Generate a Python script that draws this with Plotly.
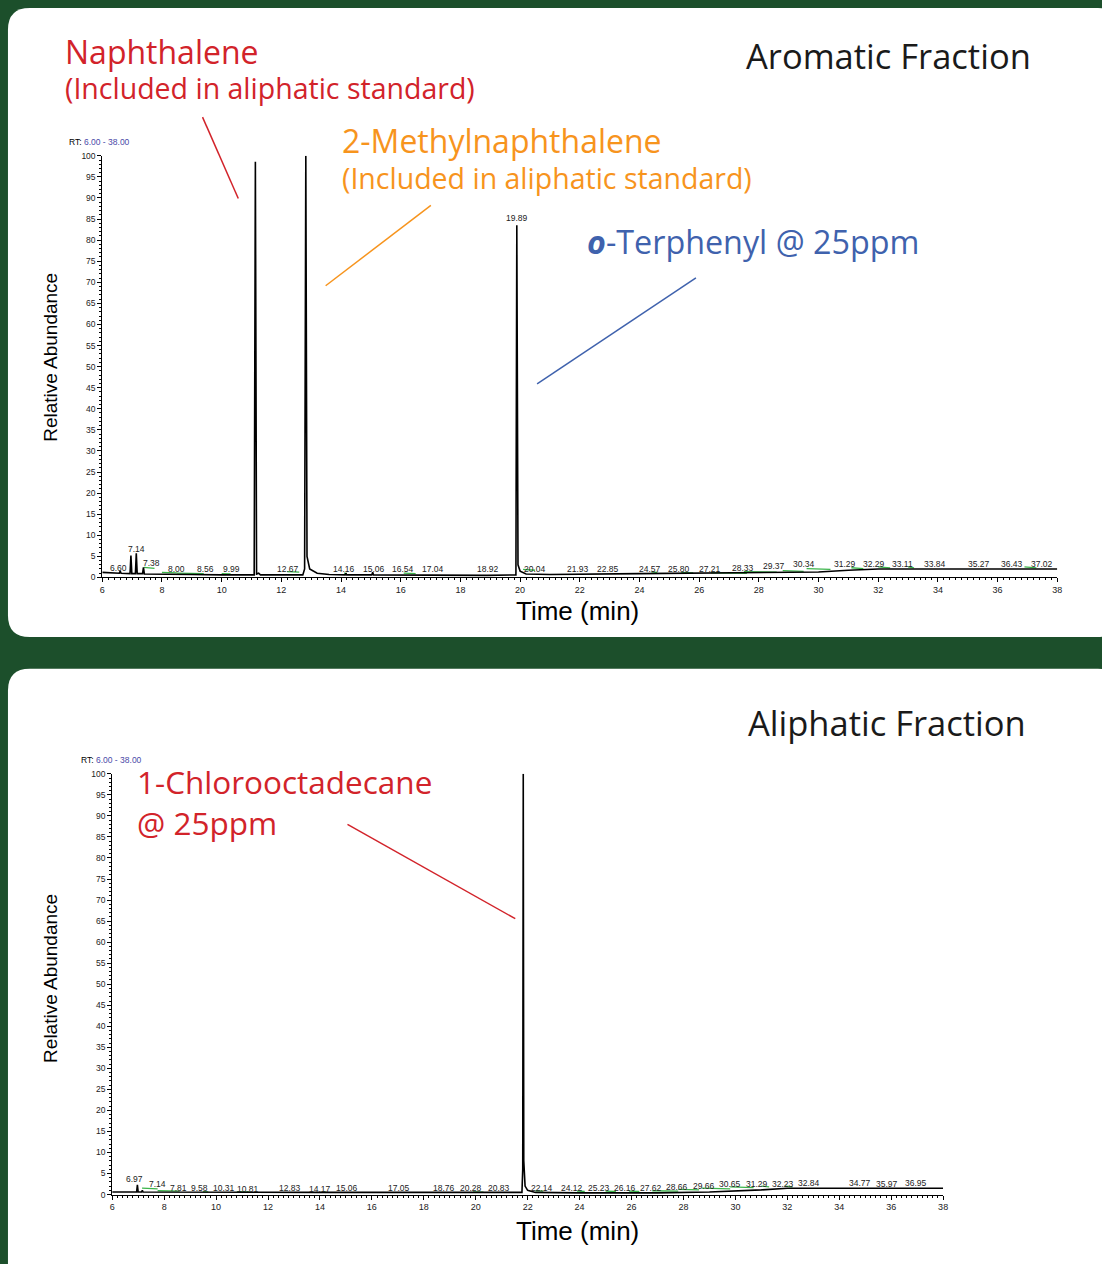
import plotly.graph_objects as go

W, H = 1102, 1264

# ---------------- data ----------------
# Aromatic fraction chromatogram (time in min, relative abundance %)
aro_time = [6.00, 6.50, 6.57, 6.60, 6.63, 6.93, 6.96, 6.99, 7.11, 7.14, 7.17, 7.35, 7.38, 7.41,
            8.00, 9.00, 10.00, 11.09, 11.13, 11.17, 11.24, 11.30, 12.72, 12.78, 12.82, 12.86,
            12.95, 13.20, 13.60, 14.14, 14.16, 14.19, 15.03, 15.06, 15.09, 17.00, 18.90, 19.86,
            19.89, 19.93, 20.00, 20.20, 21.00, 24.00, 28.00, 30.00, 31.00, 32.00, 34.00, 38.00]
aro_abund = [1.2, 1.0, 1.0, 1.5, 1.0, 0.9, 5.2, 0.9, 0.9, 5.7, 0.9, 0.9, 2.4, 0.8,
             0.7, 0.7, 0.6, 0.6, 98.6, 0.8, 1.0, 0.6, 0.6, 2.0, 100.0, 5.0,
             2.0, 1.0, 0.7, 0.6, 1.0, 0.6, 0.6, 1.2, 0.6, 0.5, 0.5, 0.6,
             83.5, 3.0, 1.5, 0.8, 0.7, 0.9, 1.1, 1.3, 1.7, 2.0, 2.0, 2.0]
aro_labels = ["6.60", "7.14", "7.38", "8.00", "8.56", "9.99", "11.13", "12.67", "14.16", "15.06",
              "16.54", "17.04", "18.92", "19.89", "20.04", "21.93", "22.85", "24.57", "25.80",
              "27.21", "28.33", "29.37", "30.34", "31.29", "32.29", "33.11", "33.84", "35.27",
              "36.43", "37.02"]
aro_label_time = [6.53, 7.16, 7.64, 8.50, 9.47, 10.32, 11.16, 12.21, 14.10, 15.09,
                  16.07, 17.09, 18.94, 19.91, 20.51, 21.93, 22.93, 24.35, 25.34,
                  26.36, 27.47, 28.52, 29.51, 30.87, 31.86, 32.82, 33.90, 35.38,
                  36.49, 37.49]
aro_label_level = [2.2, 6.8, 3.5, 2.1, 1.9, 1.9, 100.3, 2.1, 2.1, 2.1,
                   1.9, 2.1, 2.1, 85.2, 2.1, 1.9, 1.9, 2.1, 2.1,
                   2.1, 2.2, 2.6, 3.1, 3.3, 3.3, 3.3, 3.3, 3.3,
                   3.3, 3.3]
aro_green_start = [7.40, 8.00, 8.50, 10.00, 12.20, 14.10, 16.10, 20.10, 24.40, 25.40, 26.40, 27.50, 28.80, 29.60, 31.10, 32.00, 33.00, 36.90]
aro_green_end = [7.75, 8.50, 9.40, 10.30, 12.60, 14.20, 16.50, 20.50, 24.60, 25.80, 27.60, 28.60, 29.50, 30.40, 31.50, 32.40, 33.20, 37.30]
aro_green_lvl = [2.4, 1.2, 1.0, 0.9, 1.4, 1.0, 1.0, 1.9, 1.3, 1.2, 1.1, 1.4, 1.6, 2.1, 2.3, 2.5, 2.5, 2.5]

# Aliphatic fraction chromatogram
ali_time = [6.00, 6.94, 6.97, 7.00, 7.13, 7.16, 7.19, 10.00, 14.00, 18.00, 21.00, 21.78, 21.81,
            21.83, 21.85, 21.90, 22.00, 22.30, 24.00, 27.00, 29.00, 30.00, 31.00, 32.00, 38.00]
ali_abund = [0.6, 0.6, 2.3, 0.6, 0.6, 1.0, 0.6, 0.5, 0.5, 0.5, 0.5, 0.5, 6.0,
             100.0, 8.0, 2.0, 1.0, 0.5, 0.4, 0.4, 0.6, 0.8, 1.1, 1.5, 1.5]
ali_labels = ["6.97", "7.14", "7.81", "9.58", "10.31", "10.81", "12.83", "14.17", "15.06", "17.05",
              "18.76", "20.28", "20.83", "22.14", "24.12", "25.23", "26.16", "27.62", "28.66",
              "29.66", "30.65", "31.29", "32.23", "32.84", "34.77", "35.97", "36.95"]
ali_label_time = [6.85, 7.76, 8.57, 9.38, 10.29, 11.22, 12.84, 14.00, 15.05, 17.05,
                  18.78, 19.80, 20.88, 22.54, 23.71, 24.73, 25.75, 26.74, 27.76,
                  28.78, 29.79, 30.82, 31.83, 32.85, 34.80, 35.82, 36.94]
ali_label_level = [3.7, 2.4, 1.6, 1.5, 1.6, 1.3, 1.6, 1.3, 1.6, 1.6,
                   1.6, 1.6, 1.6, 1.6, 1.6, 1.6, 1.6, 1.6, 1.9,
                   2.1, 2.4, 2.5, 2.5, 2.7, 2.7, 2.5, 2.7]
ali_green_start = [7.15, 7.75, 9.50, 10.80, 14.10, 19.90, 22.30, 23.90, 25.00, 25.90, 26.80, 27.80, 28.70, 29.80, 31.00, 31.90]
ali_green_end = [7.75, 8.60, 9.70, 11.30, 14.25, 20.30, 22.60, 24.20, 25.40, 26.30, 27.80, 28.60, 29.80, 30.70, 31.30, 32.20]
ali_green_lvl = [1.5, 0.9, 0.7, 0.7, 0.6, 0.6, 0.9, 0.8, 0.8, 0.8, 0.9, 1.2, 1.5, 1.8, 2.0, 2.0]

y_ticks = list(range(0, 101, 5))

# ---------------- helpers ----------------
def fx(p):
    return p / W

def fy(p):
    return 1 - p / H

GREEN_BG = "#1c4f2b"
RED = "#d2232a"
ORANGE = "#f7941d"
BLUE = "#3f62ad"
TXT_FONT = "Open Sans"

fig = go.Figure()

def segs(starts, ends, lvls):
    xs, ys = [], []
    for a, b, l in zip(starts, ends, lvls):
        xs += [a, b, None]
        ys += [l, l * 0.9, None]
    return xs, ys

gx, gy = segs(aro_green_start, aro_green_end, aro_green_lvl)
fig.add_trace(go.Scatter(x=gx, y=gy, mode="lines", line=dict(color="#3cb44b", width=1.3),
                         xaxis="x", yaxis="y", hoverinfo="skip"))
fig.add_trace(go.Scatter(x=aro_time, y=aro_abund, mode="lines", line=dict(color="black", width=1.6),
                         xaxis="x", yaxis="y"))
gx, gy = segs(ali_green_start, ali_green_end, ali_green_lvl)
fig.add_trace(go.Scatter(x=gx, y=gy, mode="lines", line=dict(color="#3cb44b", width=1.3),
                         xaxis="x2", yaxis="y2", hoverinfo="skip"))
fig.add_trace(go.Scatter(x=ali_time, y=ali_abund, mode="lines", line=dict(color="black", width=1.6),
                         xaxis="x2", yaxis="y2"))

axis_common = dict(showgrid=False, zeroline=False, showline=True, linecolor="black", linewidth=1,
                   ticks="outside", tickcolor="black")
xfont = dict(family="Liberation Sans", size=9, color="#222")
yfont = dict(family="Liberation Sans", size=8.5, color="#222")

fig.update_layout(
    width=W, height=H, margin=dict(l=0, r=0, t=0, b=0),
    paper_bgcolor=GREEN_BG, plot_bgcolor="white", showlegend=False,
    xaxis=dict(domain=[fx(100), fx(1062)], range=[6, 38], dtick=2, ticklen=4, anchor="y", tickfont=xfont,
               minor=dict(dtick=0.2, ticklen=2, ticks="outside", tickcolor="black"), **axis_common),
    yaxis=dict(domain=[fy(577), fy(152)], range=[0, 100], tickvals=y_ticks, ticklen=4, anchor="x", tickfont=yfont,
               minor=dict(dtick=1, ticklen=2, ticks="outside", tickcolor="black"), **axis_common),
    xaxis2=dict(domain=[fx(110), fx(947)], range=[6, 38], dtick=2, ticklen=4, anchor="y2", tickfont=xfont,
                minor=dict(dtick=0.2, ticklen=2, ticks="outside", tickcolor="black"), **axis_common),
    yaxis2=dict(domain=[fy(1199), fy(775)], range=[0, 100], tickvals=y_ticks, ticklen=4, anchor="x2", tickfont=yfont,
                minor=dict(dtick=1, ticklen=2, ticks="outside", tickcolor="black"), **axis_common),
)

# ---------------- panels ----------------
def rounded(x0, y0, x1, y1, r):
    X0, X1 = fx(x0), fx(x1)
    Y0, Y1 = fy(y0), fy(y1)
    rx, ry = r / W, r / H
    return (f"M {X0+rx},{Y0} L {X1-rx},{Y0} Q {X1},{Y0} {X1},{Y0-ry} "
            f"L {X1},{Y1+ry} Q {X1},{Y1} {X1-rx},{Y1} L {X0+rx},{Y1} "
            f"Q {X0},{Y1} {X0},{Y1+ry} L {X0},{Y0-ry} Q {X0},{Y0} {X0+rx},{Y0} Z")

shapes = [
    dict(type="path", xref="paper", yref="paper", path=rounded(5, 3, 1125, 637, 22),
         fillcolor="white", line=dict(width=0), layer="below"),
    dict(type="path", xref="paper", yref="paper", path=rounded(5, 669, 1125, 1300, 22),
         fillcolor="white", line=dict(width=0), layer="below"),
]
for (x0, y0, x1, y1, c) in [(201, 113, 237, 195, RED), (431, 202, 325, 283, ORANGE),
                            (698, 275, 538, 382, BLUE), (347, 826, 516, 921, RED)]:
    shapes.append(dict(type="line", xref="paper", yref="paper", x0=fx(x0), y0=fy(y0), x1=fx(x1), y1=fy(y1),
                       line=dict(color=c, width=1.5)))
fig.update_layout(shapes=shapes)

ann = []
def txt(text, x, y, size, color, xanchor="left", yanchor="middle", family=TXT_FONT, angle=0, align="left"):
    ann.append(dict(text=text, x=fx(x), y=fy(y), xref="paper", yref="paper", showarrow=False,
                    xanchor=xanchor, yanchor=yanchor, textangle=angle, align=align,
                    font=dict(family=family, size=size, color=color)))

txt("Naphthalene", 60, 47, 32, RED)
txt("(Included in aliphatic standard)", 60, 84, 28.5, RED)
txt("Aromatic Fraction", 1038, 51, 34.5, "#1a1a1a", xanchor="right")
txt("2-Methylnaphthalene", 339, 137, 32, ORANGE)
txt("(Included in aliphatic standard)", 339, 174, 28.5, ORANGE)
txt("<b><i>o</i></b>-Terphenyl @ 25ppm", 586, 238, 32.3, BLUE)
txt("Aliphatic Fraction", 1032, 723, 34.5, "#1a1a1a", xanchor="right")
txt("1-Chlorooctadecane<br>@ 25ppm", 133, 803, 31.5, RED)

for yc in (355, 981):
    txt("Relative Abundance", 48, yc, 19, "black", xanchor="center", family="Liberation Sans", angle=-90)
txt("Time (min)", 579, 611, 26, "black", xanchor="center", family="Liberation Sans")
txt("Time (min)", 579, 1236, 26, "black", xanchor="center", family="Liberation Sans")
txt("RT: <span style='color:#4a4aa8'>6.00 - 38.00</span>", 64, 138, 8.5, "black", family="Liberation Sans")
txt("RT: <span style='color:#4a4aa8'>6.00 - 38.00</span>", 77, 761, 8.5, "black", family="Liberation Sans")

lab_font = dict(family="Liberation Sans", size=8.5, color="#222")
for t, tx, lv in zip(aro_labels, aro_label_time, aro_label_level):
    ann.append(dict(text=t, x=tx, y=lv, xref="x", yref="y", showarrow=False, yanchor="middle", font=lab_font))
for t, tx, lv in zip(ali_labels, ali_label_time, ali_label_level):
    ann.append(dict(text=t, x=tx, y=lv, xref="x2", yref="y2", showarrow=False, yanchor="middle", font=lab_font))

fig.update_layout(annotations=ann)
fig.write_html("out.html", config={"displayModeBar": False},
               post_script="document.body.style.margin='0';document.body.style.background='%s';document.documentElement.style.overflow='hidden';" % GREEN_BG)
